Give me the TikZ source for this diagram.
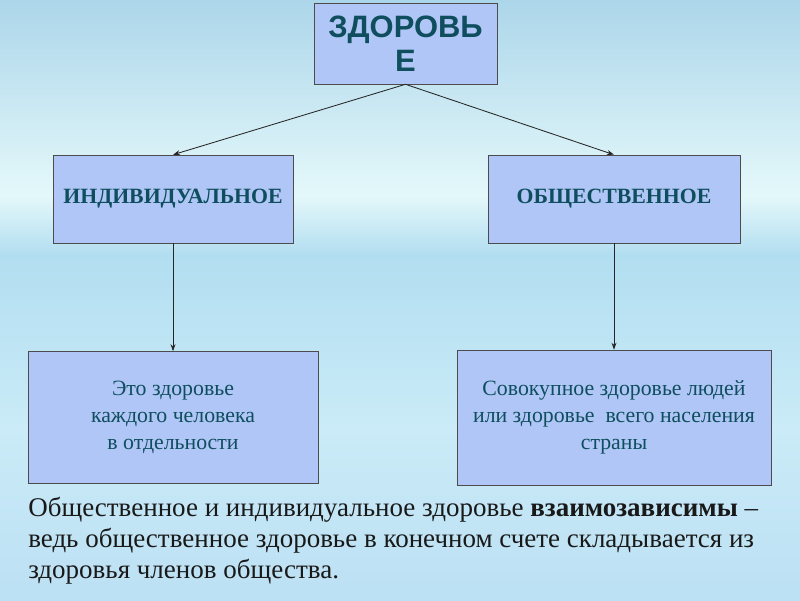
\documentclass[tikz,border=0pt]{standalone}
\usepackage{fontspec}
\setmainfont{Liberation Serif}
\newfontfamily\headfont{Liberation Sans}
\usetikzlibrary{arrows.meta,positioning,calc}
\definecolor{skytop}{RGB}{172,214,234}
\definecolor{skylight}{RGB}{228,248,250}
\definecolor{skyband}{RGB}{178,222,241}
\definecolor{skymid}{RGB}{202,235,247}
\definecolor{skybot}{RGB}{188,224,244}
\definecolor{boxfill}{RGB}{176,198,246}
\definecolor{boxtext}{RGB}{14,78,94}
\tikzset{
  rootbox/.style={draw=black!70, fill=boxfill, text=boxtext, align=center, inner sep=2pt,
    font=\headfont\bfseries\fontsize{22}{24.5}\selectfont, minimum width=4.575cm, minimum height=2.025cm},
  kindbox/.style={draw=black!70, fill=boxfill, text=boxtext, align=center, inner sep=2pt,
    font=\bfseries\fontsize{15.5}{18}\selectfont, minimum width=6cm, minimum height=2.2cm},
  textbox/.style={draw=black!70, fill=boxfill, text=boxtext, align=center, inner sep=2pt,
    font=\fontsize{15.5}{19}\selectfont, minimum height=3.3cm},
  arr/.style={-{Stealth[length=5pt,width=3.5pt]}, black!85, semithick},
}

\begin{document}
\begin{tikzpicture}[x=0.025cm,y=-0.025cm]
  % sky background
  \shade[top color=skytop, bottom color=skylight] (0,0) rectangle (800,195);
  \shade[top color=skylight, bottom color=skyband] (0,195) rectangle (800,255);
  \shade[top color=skyband, bottom color=skybot, middle color=skymid] (0,255) rectangle (800,600);
  \useasboundingbox (0,0) rectangle (800,600);

  \node[rootbox] (health) at (405.5,43.5) {ЗДОРОВЬ\\Е};
  \node[kindbox] (indiv) at (173,199) {ИНДИВИДУАЛЬНОЕ};
  \node[kindbox, minimum width=6.3cm] (social) at (614,199) {ОБЩЕСТВЕННОЕ};
  \node[textbox, minimum width=7.25cm] (indivtxt) at (173,417.5)
    {Это здоровье\\каждого человека\\в отдельности};
  \node[textbox, minimum width=7.85cm, minimum height=3.375cm] (socialtxt) at (614,417.5)
    {Совокупное здоровье людей\\ или здоровье\ \ всего населения\\страны};

  \draw[arr] (health.south) -- (indiv.north);
  \draw[arr] (health.south) -- (social.north);
  \draw[arr] (indiv.south) -- (indivtxt.north);
  \draw[arr] (social.south) -- (socialtxt.north);

  % summary under the boxes
  \node[anchor=north west, align=left, inner sep=0pt, text=black!90,
    font=\fontsize{19.2}{22}\selectfont] (summary) at (28,497)
    {Общественное и индивидуальное здоровье \textbf{взаимозависимы} –\\
     ведь общественное здоровье в конечном счете складывается из\\
     здоровья членов общества.};
\end{tikzpicture}
\end{document}
